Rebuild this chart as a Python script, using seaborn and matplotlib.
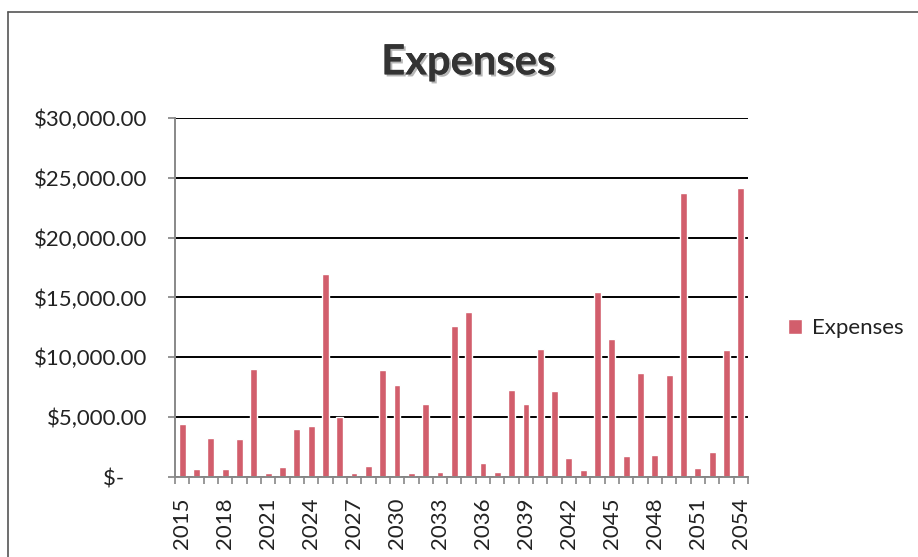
import matplotlib
matplotlib.use("Agg")
import matplotlib.pyplot as plt
import matplotlib.patheffects as pe
from matplotlib.ticker import FixedLocator, FuncFormatter
import seaborn as sns
import pandas as pd

years = list(range(2015, 2055))
expenses = [4400, 700, 3300, 700, 3200, 9000, 300, 800, 4000, 4300,
            17000, 5000, 300, 900, 8900, 7700, 350, 6100, 400, 12600,
            13800, 1200, 400, 7300, 6100, 10700, 7150, 1550, 600, 15500,
            11500, 1750, 8700, 1850, 8500, 23700, 750, 2100, 10600, 24150]
y_ticks = [0, 5000, 10000, 15000, 20000, 25000, 30000]
title = "Expenses"
series_name = "Expenses"
bar_color = "#D25E6C"

df = pd.DataFrame({"Year": [str(y) for y in years], "Expenses": expenses})

sns.set_theme(style="white")
plt.rcParams["font.family"] = ["Lato", "DejaVu Sans"]

fig = plt.figure(figsize=(9.18, 5.57), dpi=100)
ax = fig.add_axes([0.1906, 0.1436, 0.6242, 0.6446])

sns.barplot(data=df, x="Year", y="Expenses", color=bar_color, width=0.48,
            saturation=1, ax=ax, label=series_name)

ax.set_xlim(-0.5, len(years) - 0.5)
ax.set_ylim(0, 30000)
ax.set_xlabel("")
ax.set_ylabel("")

# gridlines
ax.yaxis.set_major_locator(FixedLocator(y_ticks))
ax.grid(axis="y", color="black", linewidth=1.4)
ax.set_axisbelow(True)

def money(v, pos):
    if v == 0:
        return "$-    "
    return "${:,.2f}".format(v)
ax.yaxis.set_major_formatter(FuncFormatter(money))
ax.tick_params(axis="y", which="major", left=True, length=5, color="#888888",
               labelsize=16, pad=15, labelcolor="#222222")

# x ticks: labels every 3 years, tick marks at category boundaries
label_pos = list(range(0, len(years), 3))
ax.set_xticks(label_pos)
ax.set_xticklabels([str(years[i]) for i in label_pos], rotation=90)
ax.set_xticks([i - 0.5 for i in range(len(years) + 1)], minor=True)
ax.tick_params(axis="x", which="major", bottom=False, labelsize=16, pad=9,
               labelcolor="#222222")
ax.tick_params(axis="x", which="minor", bottom=True, length=5, width=1.2,
               color="#888888")

for s in ["top", "right"]:
    ax.spines[s].set_visible(False)
for s in ["left", "bottom"]:
    ax.spines[s].set_color("#888888")
    ax.spines[s].set_linewidth(1.4)

fig.text(0.51, 0.888, title, ha="center", va="center", fontsize=30,
         fontweight="bold", color="#333333",
         path_effects=[pe.withSimplePatchShadow(offset=(1.5, -1.5), alpha=0.3),
                       pe.Normal()])

leg = ax.legend(loc="center left", bbox_to_anchor=(1.035, 0.415), frameon=False,
                fontsize=16, handlelength=0.65, handleheight=0.65,
                handletextpad=0.45)
for t in leg.get_texts():
    t.set_color("#222222")

# chart border (left and top edges as in the scan)
fig.add_artist(plt.Line2D([0.009, 0.009], [0.0, 0.978], color="#555555", lw=1.2,
                          transform=fig.transFigure))
fig.add_artist(plt.Line2D([0.009, 1.0], [0.978, 0.978], color="#555555", lw=1.2,
                          transform=fig.transFigure))

fig.savefig("out.png", dpi=100, facecolor="white")
